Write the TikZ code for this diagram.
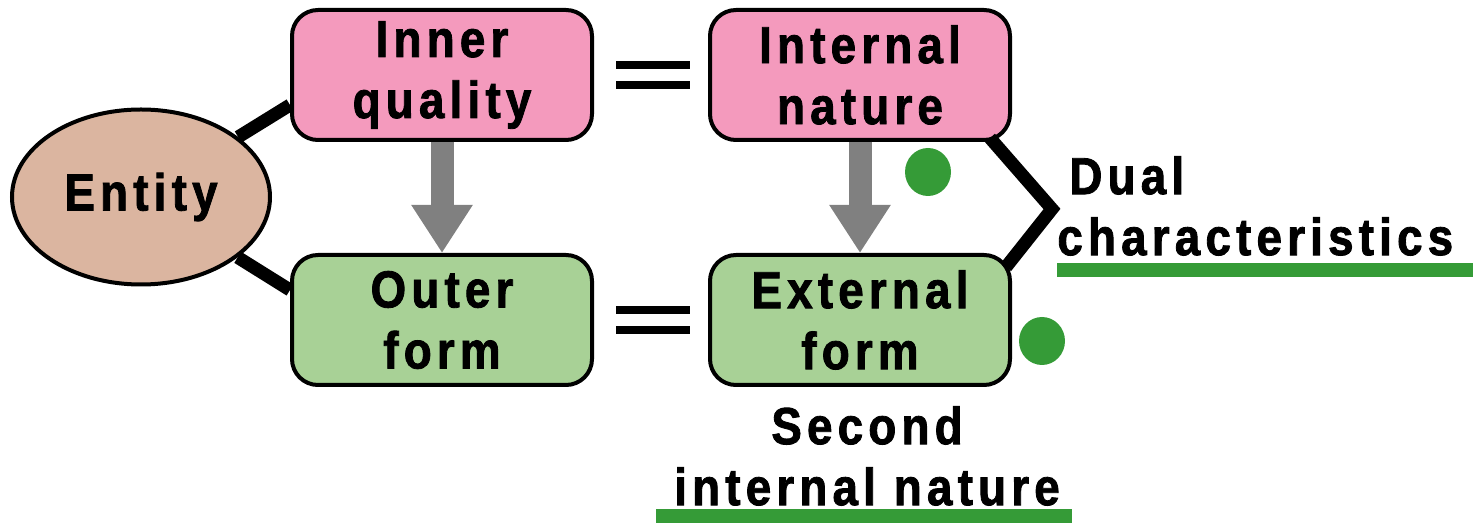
\documentclass[tikz,border=0pt]{standalone}
\usepackage{fontspec}
\setmainfont{Liberation Sans}[FakeStretch=0.88,LetterSpace=10,BoldFeatures={FakeBold=1.6}]
\usepackage{tikz}
\usetikzlibrary{arrows.meta,shapes}
\definecolor{pinkfill}{HTML}{F49ABD}
\definecolor{greenfill}{HTML}{A8D196}
\definecolor{entityfill}{HTML}{DBB5A0}
\definecolor{markgreen}{HTML}{359B37}
\definecolor{arrowgrey}{HTML}{808080}
\tikzstyle{box} = [rectangle, draw, line width=2pt, rounded corners=13pt,
minimum width=150pt, minimum height=65pt, align=center, font=\fontsize{26}{30.5}\selectfont\bfseries]
\tikzstyle{inbox} = [box, fill=pinkfill]
\tikzstyle{outbox} = [box, fill=greenfill]
\tikzstyle{link} = [draw, line width=6.5pt]
\tikzstyle{eqbar} = [draw, line width=4pt]
\tikzstyle{flow} = [draw=arrowgrey, line width=11.5pt, -{Triangle[width=29pt,length=24pt]}]
\tikzstyle{dot} = [ellipse, fill=markgreen, minimum width=23pt, minimum height=24pt, inner sep=0pt]
\tikzstyle{label} = [align=left, inner sep=0pt, font=\fontsize{26}{30.5}\selectfont\bfseries]

\begin{document}
\begin{tikzpicture}[x=0.5pt,y=-0.5pt,node distance=122.5pt]
         \useasboundingbox (0,0) rectangle (1473,523);

         \node (inner) [inbox] at (442,75) {Inner\\quality};
         \node (outer) [outbox, below of=inner] {Outer\\form};
         \node (nature) [inbox, node distance=209pt, right of=inner] {Internal\\nature};
         \node (external) [outbox, below of=nature] {External\\form};

         \node (entity) [ellipse, draw, line width=2pt, fill=entityfill, minimum width=129pt,
             minimum height=87.5pt, font=\fontsize{26}{30.5}\selectfont\bfseries] at (141,197) {Entity};

         % links from the entity
         \path [link] (entity) -- ([yshift=-15pt]inner.west);
         \path [link] (entity) -- ([yshift=15pt]outer.west);

         % equals signs
         \path [eqbar] ([xshift=11pt,yshift=5pt]inner.east) -- ([xshift=-9pt,yshift=5pt]nature.west);
         \path [eqbar] ([xshift=11pt,yshift=-5pt]inner.east) -- ([xshift=-9pt,yshift=-5pt]nature.west);
         \path [eqbar] ([xshift=11pt,yshift=5pt]outer.east) -- ([xshift=-9pt,yshift=5pt]external.west);
         \path [eqbar] ([xshift=11pt,yshift=-5pt]outer.east) -- ([xshift=-9pt,yshift=-5pt]external.west);

         % grey arrows
         \path [flow] (inner.south) -- (outer.north);
         \path [flow] (nature.south) -- (external.north);

         % bracket
         \coordinate (apex) at (1052,209);
         \path [link, miter limit=10] ([xshift=-11pt,yshift=2pt]nature.south east) -- (apex) -- ([xshift=-3pt,yshift=-7pt]external.north east);

         \node (dot1) [dot] at (928,172) {};
         \node (dot2) [dot] at (1042,341) {};

         \node (dual) [label, anchor=south west] at (1057,256) {\hspace{6pt}Dual\\characteristics};
         \fill [markgreen] (1057,263) rectangle (1473,277);

         \node (second) [label, align=center, anchor=south] at (867,506) {Second\\internal nature};
         \fill [markgreen] (656,509) rectangle (1072,523);

     \end{tikzpicture}
\end{document}
